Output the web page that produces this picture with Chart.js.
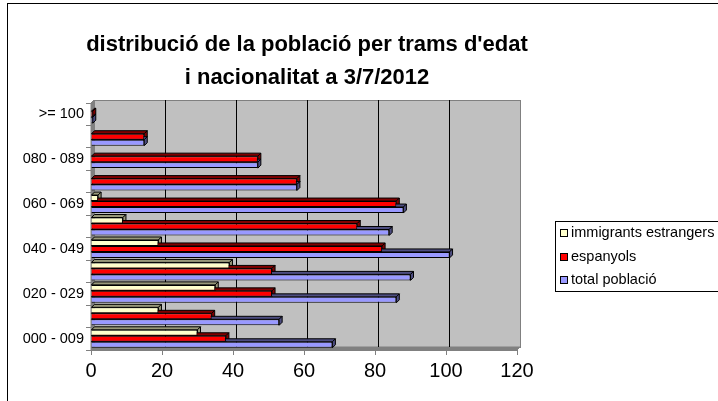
<!DOCTYPE html>
<html>
<head>
<meta charset="utf-8">
<script src="https://cdn.jsdelivr.net/npm/chart.js@4/dist/chart.umd.min.js"></script>
<style>
html, body { margin: 0; padding: 0; background: #fff; }
#wrap { position: relative; width: 718px; height: 401px; overflow: hidden; }
#frame { position: absolute; left: 7px; top: 3px; width: 800px; height: 500px; border: 1px solid #000; }
canvas { position: absolute; left: 0; top: 0; }
</style>
</head>
<body>
<div id="wrap"><div id="frame"></div><canvas id="chart" width="718" height="401"></canvas></div>
<script>
// trams d'edat, de baix a dalt
const trams = ['000 - 009', '010 - 019', '020 - 029', '030 - 039', '040 - 049', '050 - 059',
               '060 - 069', '070 - 079', '080 - 089', '090 - 099', '>= 100'];
const immigrants = [30, 19, 35, 39, 19, 9, 2, 0, 0, 0, 0];
const espanyols  = [38, 34, 51, 51, 82, 75, 86, 58, 47, 15, 0.5];
const total      = [68, 53, 86, 90, 101, 84, 88, 58, 47, 15, 0.5];
const xTicks = [0, 20, 40, 60, 80, 100, 120];

const D = 3; // profunditat 3D
const FONT = '"Liberation Sans", Arial, sans-serif';
Chart.defaults.font.family = FONT;
Chart.defaults.color = '#000';

function poly(ctx, pts, fill) {
    ctx.beginPath();
    ctx.moveTo(pts[0][0], pts[0][1]);
    for (let i = 1; i < pts.length; i++) ctx.lineTo(pts[i][0], pts[i][1]);
    ctx.closePath();
    ctx.fillStyle = fill;
    ctx.fill();
    ctx.stroke();
}

// paret del fons, terra i cares laterals de les barres
const fons3d = {
    id: 'fons3d',
    beforeDatasetsDraw(chart) {
        const { ctx, chartArea: a, scales: { x } } = chart;
        ctx.save();
        ctx.lineWidth = 1;
        ctx.strokeStyle = '#808080';
        ctx.fillStyle = '#c0c0c0';
        ctx.fillRect(a.left + D, a.top - D, a.width, a.height);
        ctx.strokeRect(a.left + D + 0.5, a.top - D + 0.5, a.width, a.height);
        poly(ctx, [[a.left, a.top], [a.left + D, a.top - D], [a.left + D, a.bottom - D], [a.left, a.bottom]], '#808080');
        poly(ctx, [[a.left, a.bottom], [a.left + D, a.bottom - D], [a.right + D, a.bottom - D], [a.right, a.bottom]], '#808080');

        ctx.strokeStyle = '#000';
        x.ticks.forEach(t => {
            if (t.value === 0 || t.value === 120) return;
            const px = Math.round(x.getPixelForValue(t.value)) + D + 0.5;
            ctx.beginPath();
            ctx.moveTo(px, a.top - D);
            ctx.lineTo(px, a.bottom - D);
            ctx.stroke();
        });

        chart.data.datasets.forEach((ds, i) => {
            const meta = chart.getDatasetMeta(i);
            meta.data.forEach((bar, j) => {
                if (!ds.data[j]) return;
                const p = bar.getProps(['x', 'y', 'base', 'height'], true);
                const t = p.y - p.height / 2, b = p.y + p.height / 2;
                ctx.strokeStyle = '#000';
                poly(ctx, [[p.base, t], [p.base + D, t - D], [p.x + D, t - D], [p.x, t]], ds.sideColor);
                poly(ctx, [[p.x, t], [p.x + D, t - D], [p.x + D, b - D], [p.x, b]], ds.sideColor);
            });
        });
        ctx.restore();
    }
};

// llegenda amb marc
const llegenda = {
    id: 'llegenda',
    afterDraw(chart) {
        const ctx = chart.ctx;
        ctx.save();
        ctx.strokeStyle = '#000';
        ctx.lineWidth = 1;
        ctx.strokeRect(555.5, 221.5, 170, 70);
        ctx.font = '14.5px ' + FONT;
        ctx.textBaseline = 'middle';
        chart.data.datasets.forEach((ds, i) => {
            const y = 233 + i * 23.5;
            ctx.fillStyle = ds.backgroundColor;
            ctx.fillRect(560, Math.round(y) - 3, 7, 7);
            ctx.strokeRect(560.5, Math.round(y) - 3.5, 7, 7);
            ctx.fillStyle = '#000';
            ctx.fillText(ds.label, 571, y);
        });
        ctx.restore();
    }
};

const ctx = document.getElementById('chart').getContext('2d');
const myChart = new Chart(ctx, {
    type: 'bar',
    data: {
        labels: trams.slice().reverse(),
        datasets: [
            { label: 'immigrants estrangers', data: immigrants.slice().reverse(), backgroundColor: '#ffffcc', sideColor: '#99997a' },
            { label: 'espanyols', data: espanyols.slice().reverse(), backgroundColor: '#ff0000', sideColor: '#800000' },
            { label: 'total població', data: total.slice().reverse(), backgroundColor: '#9999ff', sideColor: '#4d4d80' }
        ]
    },
    options: {
        indexAxis: 'y',
        responsive: false,
        animation: false,
        devicePixelRatio: 1,
        layout: { padding: { left: 0, right: 104, top: 0, bottom: 0 } },
        datasets: {
            bar: { borderColor: '#000', borderWidth: 1, categoryPercentage: 0.8, barPercentage: 1 }
        },
        plugins: {
            legend: { display: false },
            tooltip: { enabled: false },
            title: {
                display: true,
                text: ["distribució de la població per trams d'edat", 'i nacionalitat a 3/7/2012'],
                color: '#000',
                font: { size: 22, weight: 'bold', lineHeight: 1.5 },
                padding: { top: 28, bottom: 9 }
            }
        },
        scales: {
            x: {
                min: 0,
                max: 120,
                afterBuildTicks: s => { s.ticks = xTicks.map(v => ({ value: v })); },
                afterFit: s => { s.height = 51; },
                grid: { drawOnChartArea: false, tickLength: 5, color: '#808080' },
                border: { color: '#808080' },
                ticks: { color: '#000', font: { size: 20 }, padding: 4 }
            },
            y: {
                afterFit: s => { s.width = 91; },
                grid: { drawOnChartArea: false, tickLength: 5, color: '#808080' },
                border: { color: '#808080' },
                ticks: {
                    autoSkip: false,
                    color: '#000',
                    font: { size: 14.5 },
                    padding: 2,
                    callback: function (v, i) { return i % 2 === 0 ? this.getLabelForValue(v) : ''; }
                }
            },
            // espai buit a la dreta per a la llegenda
            lloc: {
                type: 'linear',
                position: 'right',
                display: true,
                grid: { display: false },
                border: { display: false },
                ticks: { display: false },
                afterFit: s => { s.width = 97; }
            }
        }
    },
    plugins: [fons3d, llegenda]
});
</script>
</body>
</html>
